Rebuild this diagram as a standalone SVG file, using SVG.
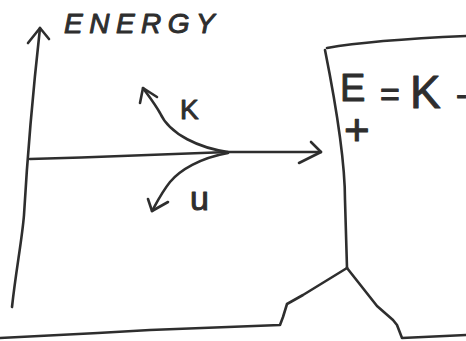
<svg xmlns="http://www.w3.org/2000/svg" width="466" height="341" viewBox="0 0 466 341">
<style>
.ln{fill:none;stroke:#2e2e2e;stroke-width:2.6;stroke-linecap:round;stroke-linejoin:round}
.tx{font-family:"Liberation Sans",Arial,sans-serif;fill:#2e2e2e;stroke:#2e2e2e;stroke-width:1;stroke-linejoin:round}
</style>
<rect width="466" height="341" fill="#fff"/>
<g id="axes">
<path class="ln" d="M12,307 C16,270 22,240 24,215 C26,180 32,100 40,28"/>
<path class="ln" d="M28,43 L40,28 L49,39"/>
<path class="ln" d="M30,159 C100,157 180,154 228,152 L321,152"/>
<path class="ln" d="M311,142 L321,152 L299,163"/>
<text class="tx" x="64" y="33" font-size="28" font-style="italic" letter-spacing="6.5">ENERGY</text>
</g>
<g id="connectors">
<path class="ln" d="M228,152 C200,148 170,135 160,113 C155,104 148,95 143,88"/>
<path class="ln" d="M140,103 L143,88 L157,97"/>
<path class="ln" d="M228,153 C200,158 180,170 170,182 C162,192 157,202 152,211"/>
<path class="ln" d="M148,199 L152,211 L168,202"/>
</g>
<g id="labels">
<text class="tx" x="180" y="119" font-size="28">K</text>
<text class="tx" x="190" y="210" font-size="34">u</text>
</g>
<g id="box">
<path class="ln" d="M327,48 C360,42 420,38 466,36"/>
<path class="ln" d="M325,50 C335,100 345,160 345,200 L347,268"/>
<path class="ln" d="M347,268 L303,295 L287,304 L283,317 L280,325 L150,330 C100,333 40,336 0,338"/>
<path class="ln" d="M347,268 L377,306 L393,320 L397,325 L402,338 L466,335"/>
<text class="tx" x="340" y="101" font-size="38">E</text>
<text class="tx" x="380" y="106" font-size="34">=</text>
<text class="tx" x="410" y="108" font-size="46">K</text>
<text class="tx" x="456" y="106" font-size="34">-</text>
<text class="tx" x="344" y="145" font-size="44">+</text>
</g>
</svg>
